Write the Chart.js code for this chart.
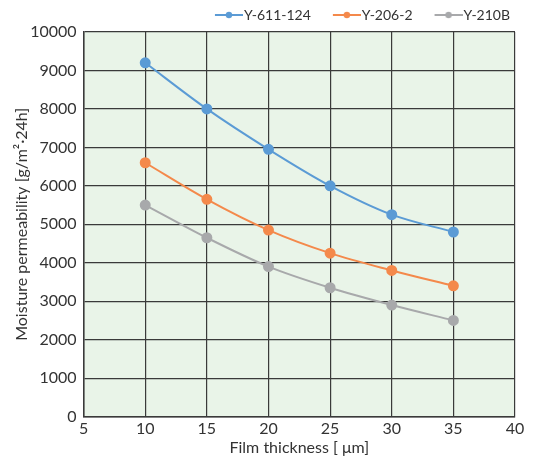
<!DOCTYPE html>
<html>
<head>
<meta charset="utf-8">
<script src="https://cdn.jsdelivr.net/npm/chart.js@4"></script>
<style>
  html, body { margin: 0; padding: 0; background: #fff; }
  #wrap { width: 535px; height: 459px; }
</style>
</head>
<body>
<div id="wrap"><canvas id="grafico"></canvas></div>
<script>
// Datos
const grosores = [10, 15, 20, 25, 30, 35];
const serieY611 = [9200, 8000, 6950, 6000, 5250, 4800];
const serieY206 = [6600, 5650, 4850, 4250, 3800, 3400];
const serieY210B = [5500, 4650, 3900, 3350, 2900, 2500];
const nombresSeries = ["Y-611-124", "Y-206-2", "Y-210B"];
const coloresSeries = ["#5b9bd5", "#f4894b", "#a8a9ab"];

const fuente = "Lato, 'Open Sans', sans-serif";

// Icono de leyenda: línea con punto, pegado al borde derecho de la imagen
function iconoLeyenda(color) {
  const c = document.createElement("canvas");
  c.width = 50;
  c.height = 10;
  const ctx = c.getContext("2d");
  ctx.strokeStyle = color;
  ctx.lineWidth = 2;
  ctx.beginPath();
  ctx.moveTo(22, 5);
  ctx.lineTo(50, 5);
  ctx.stroke();
  ctx.fillStyle = color;
  ctx.beginPath();
  ctx.arc(36, 5, 3.2, 0, Math.PI * 2);
  ctx.fill();
  return c;
}

const fondoArea = {
  id: "fondoArea",
  afterLayout(chart) {
    // la leyenda sobresale un poco a la derecha, como en el original
    const l = chart.legend;
    if (l) {
      l.left += 1;
      l.right += 1;
      l.adjustHitBoxes();
    }
  },
  beforeDraw(chart) {
    const { ctx, chartArea: a } = chart;
    ctx.save();
    ctx.fillStyle = "#e9f4e8";
    ctx.fillRect(a.left, a.top, a.right - a.left, a.bottom - a.top);
    ctx.restore();
  },
};

function serie(i, valores) {
  return {
    label: nombresSeries[i],
    data: grosores.map((x, k) => ({ x: x, y: valores[k] })),
    borderColor: coloresSeries[i],
    backgroundColor: coloresSeries[i],
    borderWidth: 2,
    pointRadius: 4.5,
    pointHoverRadius: 4.5,
    cubicInterpolationMode: "monotone",
    fill: false,
  };
}

document.addEventListener("DOMContentLoaded", () => {
  const ctx = document.getElementById("grafico").getContext("2d");
  new Chart(ctx, {
    type: "line",
    data: {
      datasets: [serie(0, serieY611), serie(1, serieY206), serie(2, serieY210B)],
    },
    plugins: [fondoArea],
    options: {
      responsive: true,
      maintainAspectRatio: false,
      animation: false,
      layout: { padding: { top: 2, right: 20, left: 12, bottom: 2 } },
      plugins: {
        tooltip: { enabled: false },
        legend: {
          position: "top",
          align: "end",
          labels: {
            usePointStyle: true,
            pointStyleWidth: 38,
            font: { family: fuente, size: 14 },
            color: "#333",
            padding: 6,
            generateLabels(chart) {
              return chart.data.datasets.map((d, i) => ({
                text: d.label,
                pointStyle: iconoLeyenda(coloresSeries[i]),
                fillStyle: coloresSeries[i],
                strokeStyle: coloresSeries[i],
                fontColor: "#333",
                lineWidth: 0,
                datasetIndex: i,
              }));
            },
          },
        },
      },
      scales: {
        x: {
          type: "linear",
          min: 5,
          max: 40,
          ticks: { stepSize: 5, color: "#333", font: { family: fuente, size: 16 }, padding: 3 },
          grid: { color: "#3a3a3a", lineWidth: 1.2, drawTicks: false },
          border: { color: "#3a3a3a", width: 1.5 },
          title: {
            display: true,
            text: "Film thickness [ μm]",
            color: "#333",
            font: { family: fuente, size: 16 },
            padding: { top: -4, bottom: 0 },
          },
        },
        y: {
          min: 0,
          max: 10000,
          ticks: {
            stepSize: 1000,
            color: "#333",
            font: { family: fuente, size: 16 },
            padding: 7,
            callback: (v) => String(v),
          },
          grid: { color: "#3a3a3a", lineWidth: 1.2, drawTicks: false },
          border: { color: "#3a3a3a", width: 1.5 },
          title: {
            display: true,
            text: "Moisture permeability [g/m²·24h]",
            color: "#333",
            font: { family: fuente, size: 16 },
            padding: { top: 0, bottom: -8 },
          },
        },
      },
    },
  });
});
</script>
</body>
</html>
